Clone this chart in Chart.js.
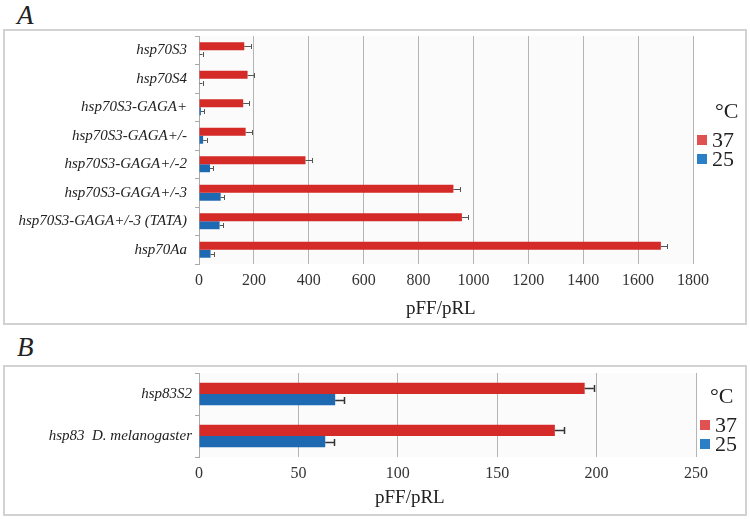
<!DOCTYPE html>
<html>
<head>
<meta charset="utf-8">
<script src="https://cdn.jsdelivr.net/npm/chart.js@4/dist/chart.umd.min.js"></script>
<style>
  html, body { margin: 0; padding: 0; background: #fff; }
  #page { position: relative; width: 750px; height: 519px; overflow: hidden;
          font-family: "Liberation Serif", "Times New Roman", serif; color: #222; }
  .panel-label { position: absolute; font-style: italic; font-size: 27px; line-height: 1; }
  .box { position: absolute; border: 2px solid #d2d2d2; box-sizing: border-box; }
  canvas { position: absolute; }
  .axis-title { position: absolute; font-size: 19px; line-height: 1; white-space: nowrap; }
  .legend { position: absolute; font-size: 22px; line-height: 19px; }
  .legend .item { display: flex; align-items: center; height: 19px; }
  .legend .sw { width: 10px; height: 10px; margin-right: 5px; }
  .legend .ttl { margin-bottom: 10px; }
</style>
</head>
<body>
<div id="page">
  <div class="panel-label" style="left:17px; top:2px;">A</div>
  <div class="box" style="left:3px; top:29px; width:744px; height:296px;"></div>
  <canvas id="chartA" width="750" height="294" style="left:0; top:30px;"></canvas>
  <div class="axis-title" style="left:406px; top:298px;">pFF/pRL</div>
  <div class="legend" id="legendA" style="left:697px; top:101px;"></div>

  <div class="panel-label" style="left:17px; top:334px;">B</div>
  <div class="box" style="left:3px; top:365px; width:744px; height:151px;"></div>
  <canvas id="chartB" width="750" height="149" style="left:0; top:366px;"></canvas>
  <div class="axis-title" style="left:375px; top:487px;">pFF/pRL</div>
  <div class="legend" id="legendB" style="left:700px; top:386px;"></div>
</div>
<script>
  // panel A
  var labelsA = ['hsp70S3', 'hsp70S4', 'hsp70S3-GAGA+', 'hsp70S3-GAGA+/-', 'hsp70S3-GAGA+/-2',
                 'hsp70S3-GAGA+/-3', 'hsp70S3-GAGA+/-3 (TATA)', 'hsp70Aa'];
  var hot37A = [165, 177, 161, 170, 388, 927, 958, 1683];
  var hot37ErrA = [24, 23, 22, 24, 25, 24, 23, 24];
  var cold25A = [2, 2, 7, 15, 40, 79, 75, 42];
  var cold25ErrA = [11, 11, 12, 13, 12, 13, 13, 14];
  var ticksA = [0, 200, 400, 600, 800, 1000, 1200, 1400, 1600, 1800];

  // panel B
  var labelsB = ['hsp83S2', 'hsp83  D. melanogaster'];
  var hot37B = [194, 179];
  var hot37ErrB = [4.5, 4.5];
  var cold25B = [68.5, 63.5];
  var cold25ErrB = [4.5, 4.5];
  var ticksB = [0, 50, 100, 150, 200, 250];

  var legendTitle = '\u00B0C';
  var seriesNames = ['37', '25'];

  var RED = '#d42a28';
  var BLUE = '#1d69b2';
  var RED_KEY = '#e05252';
  var BLUE_KEY = '#2a7fc6';
  var SERIF = '"Liberation Serif", "Times New Roman", serif';

  var plotBg = {
    id: 'plotBg',
    beforeDraw: function (chart) {
      var a = chart.chartArea, ctx = chart.ctx;
      ctx.save();
      ctx.fillStyle = '#fbfbfb';
      ctx.fillRect(a.left, a.top, a.right - a.left, a.bottom - a.top);
      ctx.restore();
    }
  };

  var errorBars = {
    id: 'errorBars',
    afterDatasetsDraw: function (chart, args, opts) {
      var ctx = chart.ctx, xs = chart.scales.x;
      ctx.save();
      ctx.strokeStyle = opts.color;
      ctx.lineWidth = opts.width;
      chart.data.datasets.forEach(function (ds, i) {
        var meta = chart.getDatasetMeta(i);
        meta.data.forEach(function (bar, j) {
          var x0 = bar.x;
          var x1 = xs.getPixelForValue(ds.data[j] + ds.errors[j]);
          var y = Math.round(bar.y) + 0.5;
          var c = opts.cap;
          ctx.beginPath();
          ctx.moveTo(x0, y);
          ctx.lineTo(x1, y);
          ctx.moveTo(Math.round(x1) + 0.5, y - c);
          ctx.lineTo(Math.round(x1) + 0.5, y + c);
          ctx.stroke();
        });
      });
      ctx.restore();
    }
  };

  function makeChart(id, labels, hot, hotErr, cold, coldErr, ticks, o) {
    return new Chart(document.getElementById(id), {
      type: 'bar',
      data: {
        labels: labels,
        datasets: [
          { label: seriesNames[0], data: hot, errors: hotErr, backgroundColor: RED,
            categoryPercentage: o.catPct, barPercentage: 1 },
          { label: seriesNames[1], data: cold, errors: coldErr, backgroundColor: BLUE,
            categoryPercentage: o.catPct, barPercentage: 1 }
        ]
      },
      options: {
        indexAxis: 'y',
        responsive: false,
        animation: false,
        layout: { padding: { top: o.top, right: o.right, left: 0, bottom: 0 } },
        plugins: {
          legend: { display: false },
          tooltip: { enabled: false },
          errorBars: { color: o.errColor, width: o.errWidth, cap: o.cap }
        },
        scales: {
          x: {
            min: ticks[0],
            max: ticks[ticks.length - 1],
            afterBuildTicks: function (s) { s.ticks = ticks.map(function (v) { return { value: v }; }); },
            afterFit: function (s) { s.height = o.xHeight; },
            grid: { color: '#b4b4b4', drawTicks: false },
            border: { display: false },
            ticks: { color: '#333', padding: 7, font: { family: SERIF, size: 16 },
                     callback: function (v) { return String(v); } }
          },
          y: {
            afterFit: function (s) { s.width = 199; s.paddingTop = 0; s.paddingBottom = 0; },
            grid: { drawOnChartArea: false, tickLength: 4, color: '#aaa' },
            border: { display: true, color: '#aaa' },
            ticks: { color: '#222', padding: o.yPad, autoSkip: false,
                     font: { family: SERIF, size: 15, style: 'italic' } }
          }
        }
      },
      plugins: [plotBg, errorBars]
    });
  }

  makeChart('chartA', labelsA, hot37A, hot37ErrA, cold25A, cold25ErrA, ticksA,
    { catPct: 0.56, top: 6, right: 57, xHeight: 60, yPad: 8, errColor: '#555', errWidth: 1, cap: 2.5 });
  makeChart('chartB', labelsB, hot37B, hot37ErrB, cold25B, cold25ErrB, ticksB,
    { catPct: 0.535, top: 7, right: 54, xHeight: 58, yPad: 3, errColor: '#333', errWidth: 1.5, cap: 3.5 });

  function buildLegend(id, titleShift) {
    var el = document.getElementById(id);
    var html = '<div class="ttl" style="margin-left:' + titleShift + 'px">' + legendTitle + '</div>';
    var keys = [RED_KEY, BLUE_KEY];
    seriesNames.forEach(function (n, i) {
      html += '<div class="item"><span class="sw" style="background:' + keys[i] + '"></span>' + n + '</div>';
    });
    el.innerHTML = html;
  }
  buildLegend('legendA', 18);
  buildLegend('legendB', 10);
</script>
</body>
</html>
